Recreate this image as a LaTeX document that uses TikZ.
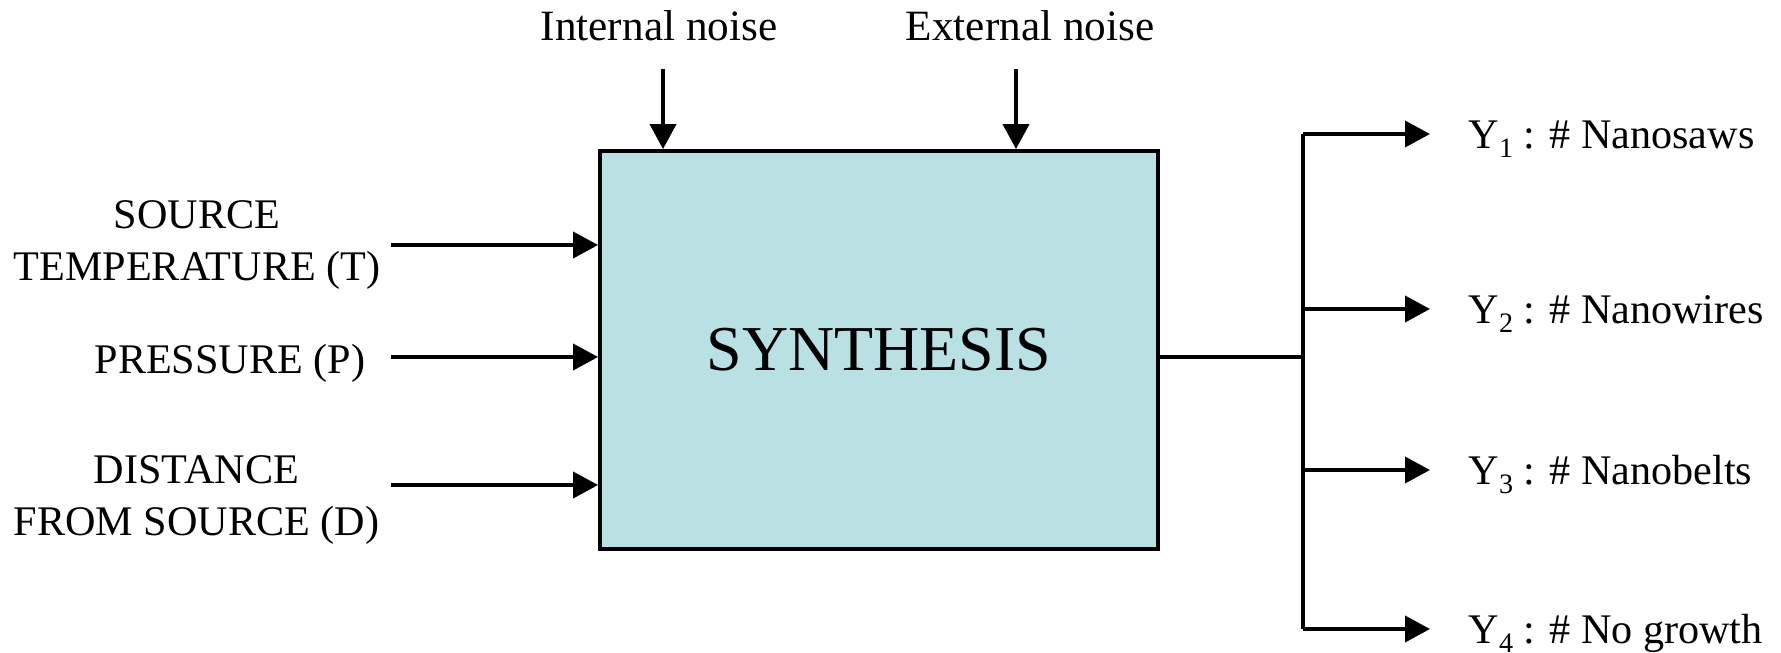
\documentclass[tikz,border=0pt]{standalone}
\usepackage{fontspec}
\setmainfont{Liberation Serif}
\usetikzlibrary{arrows.meta, positioning, calc}
\definecolor{synthfill}{RGB}{185, 224, 227}
\newcommand{\ysub}[1]{\raisebox{-2.8pt}{\fontsize{8}{8}\selectfont #1}}

\begin{document}
\begin{tikzpicture}[
    synthbox/.style={rectangle, draw, line width=1.1pt, fill=synthfill,
                minimum width=5.58cm, minimum height=3.98cm, inner sep=0pt,
                font=\fontsize{18.2}{22}\selectfont},
    arrow/.style={-{Triangle[length=0.25cm, width=0.26cm]}, line width=1.1pt},
    wire/.style={line width=1.1pt},
    inlbl/.style={align=center, inner sep=0pt, font=\fontsize{12}{15}\selectfont},
    outlbl/.style={inner sep=0pt, text height=0.28cm, text depth=0pt,
                font=\fontsize{12}{15}\selectfont},
    noiselbl/.style={inner sep=0pt, anchor=base, font=\fontsize{12.3}{15}\selectfont},
]
\useasboundingbox (0,0) rectangle (17.81,-6.52);

% Process block
\node[synthbox] (synth) at (8.79,-3.50) {SYNTHESIS};

% Noise
\node[noiselbl] (intnoise) at (6.59,-0.40) {Internal noise};
\node[noiselbl] (extnoise) at (10.30,-0.40) {External noise};
\coordinate (intTop) at (6.63,-0.69);
\coordinate (extTop) at (10.16,-0.69);
\draw[arrow] (intTop) -- (intTop |- synth.north);
\draw[arrow] (extTop) -- (extTop |- synth.north);

% Inputs
\coordinate (tIn) at (3.91,-2.45);
\coordinate (pIn) at (3.91,-3.57);
\coordinate (dIn) at (3.91,-4.85);
\draw[arrow] (tIn) -- (tIn -| synth.west);
\draw[arrow] (pIn) -- (pIn -| synth.west);
\draw[arrow] (dIn) -- (dIn -| synth.west);
\node[inlbl, left=0.05cm of tIn, xshift=-0.05cm] (tempL) {SOURCE\\TEMPERATURE (T)};
\node[inlbl, left=0.25cm of pIn, yshift=-0.06cm] (presL) {PRESSURE (P)};
\node[inlbl, left=0.11cm of dIn, yshift=-0.15cm] (distL) {DISTANCE\\FROM SOURCE (D)};

% Outputs
\coordinate (fork) at (13.03,-3.57);
\coordinate (y1) at (14.30,-1.34);
\coordinate (y2) at (14.30,-3.09);
\coordinate (y3) at (14.30,-4.70);
\coordinate (y4) at (14.30,-6.29);
\draw[wire] (fork -| synth.east) -- (fork);
\draw[wire] (fork |- y1) -- (fork |- y4);
\foreach \y in {y1, y2, y3, y4}
    \draw[arrow] (fork |- \y) -- (\y);
\node[outlbl, right=0.38cm of y1] (saws) {Y\ysub{1} : \# Nanosaws};
\node[outlbl, right=0.38cm of y2] (wires) {Y\ysub{2} : \# Nanowires};
\node[outlbl, right=0.38cm of y3] (belts) {Y\ysub{3} : \# Nanobelts};
\node[outlbl, right=0.38cm of y4] (nogrow) {Y\ysub{4} : \# No growth};

\end{tikzpicture}
\end{document}
